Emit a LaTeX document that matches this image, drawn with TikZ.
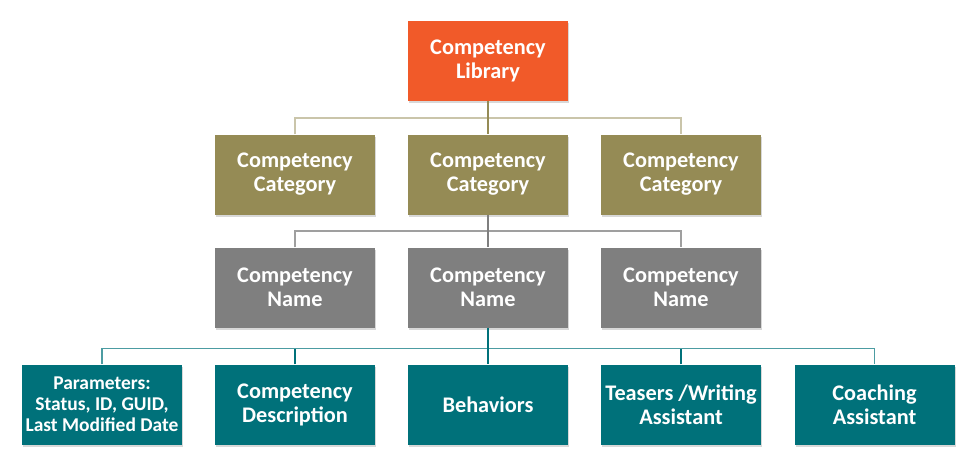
\documentclass[tikz,border=0pt]{standalone}
\usepackage{fontspec}
\setmainfont{Carlito}
\usetikzlibrary{shadows}
\definecolor{libred}{HTML}{F15A29}
\definecolor{catolive}{HTML}{958B55}
\definecolor{namegrey}{HTML}{7F7F7F}
\definecolor{itemteal}{HTML}{00717A}

\begin{document}
\begin{tikzpicture}[x=1pt,y=-1pt,
  box/.style={minimum width=160pt,minimum height=80pt,inner sep=0pt,align=center,
    text=white,font=\fontsize{22.3}{24}\selectfont\bfseries,
    drop shadow={shadow xshift=1pt,shadow yshift=-2pt,opacity=0.3}},
  libbox/.style={box,fill=libred},
  catbox/.style={box,fill=catolive},
  namebox/.style={box,fill=namegrey},
  itembox/.style={box,fill=itemteal},
  link/.style={line width=1.2pt}]
  \fill[white] (0,0) rectangle (977,464);
  \useasboundingbox (0,0) rectangle (977,464);
  % Library
  \node[libbox] (lib) at (488,60.5) {Competency\\Library};
  % Categories and names
  \foreach \i/\x in {1/295,2/488,3/681} {
    \node[catbox] (cat\i) at (\x,174.5) {Competency\\Category};
    \node[namebox] (name\i) at (\x,287.5) {Competency\\Name};
  }
  % Items
  \node[itembox,font=\fontsize{19.5}{21}\selectfont\bfseries] (param) at (102,404.5)
    {Parameters:\\Status, ID, GUID,\\Last Modified Date};
  \node[itembox] (desc) at (295,404.5) {Competency\\Description};
  \node[itembox] (behav) at (488,404.5) {Behaviors};
  \node[itembox] (teaser) at (681,404.5) {Teasers /Writing\\Assistant};
  \node[itembox] (coach) at (874.5,404.5) {Coaching\\Assistant};
  % Verbindungen
  \coordinate (j1) at (488,118);
  \coordinate (j2) at (488,231);
  \coordinate (j3) at (488,348.5);
  \draw[link,catolive!50] (cat1.north) |- (j1) -| (cat3.north);
  \draw[link,catolive] (lib.south) -- (j1) -- (cat2.north);
  \draw[link,namegrey!75] (name1.north) |- (j2) -| (name3.north);
  \draw[link,namegrey] (cat2.south) -- (j2) -- (name2.north);
  \draw[link,itemteal!70] (param.north) |- (j3) -| (coach.north);
  \draw[link,itemteal] (name2.south) -- (j3) -- (behav.north);
  \foreach \n in {desc,teaser}
    \draw[link,itemteal] (\n.north) -- (\n.north |- j3);
\end{tikzpicture}
\end{document}
